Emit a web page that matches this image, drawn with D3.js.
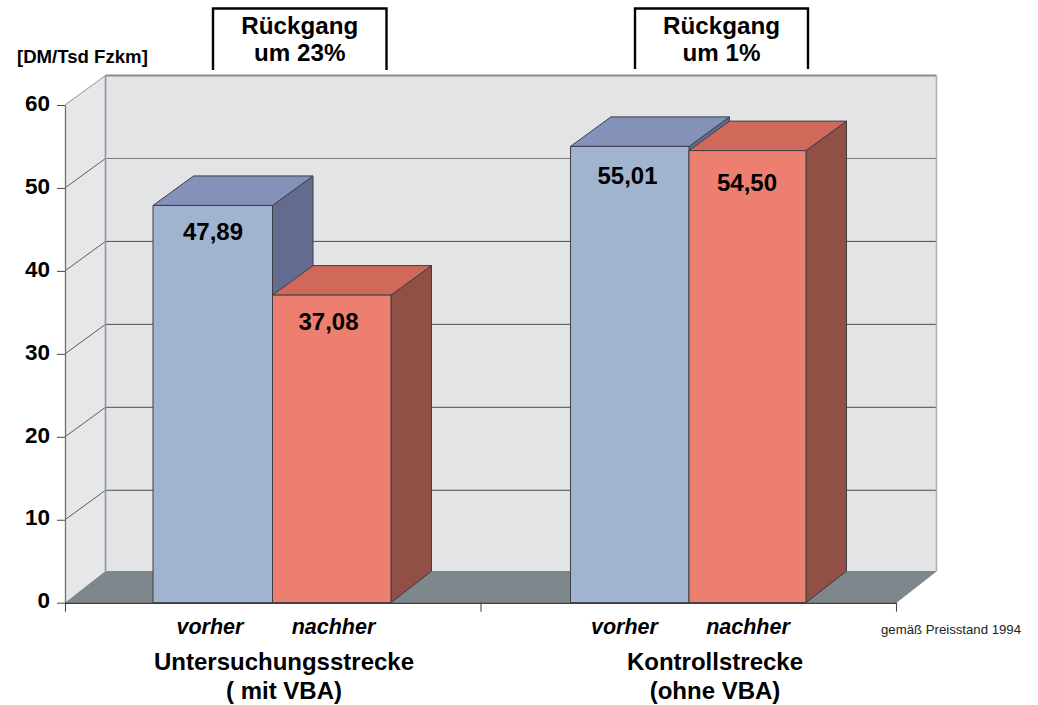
<!DOCTYPE html>
<html><head><meta charset="utf-8">
<script src="https://cdn.jsdelivr.net/npm/d3@7/dist/d3.min.js"></script>
<style>html,body{margin:0;padding:0;background:#fff}svg{display:block}text{font-family:"Liberation Sans",Arial,sans-serif;fill:#000}</style>
</head><body><svg id="c" width="1038" height="705"></svg>
<script>
const categories = ["Untersuchungsstrecke", "Kontrollstrecke"];
const categorySub = ["( mit VBA)", "(ohne VBA)"];
const seriesNames = ["vorher", "nachher"];
const vorher = [47.89, 55.01];
const nachher = [37.08, 54.50];
const labelsVorher = ["47,89", "55,01"];
const labelsNachher = ["37,08", "54,50"];
const tickValues = [0, 10, 20, 30, 40, 50, 60];
const reductions = ["um 23%", "um 1%"];

const svg = d3.select("#c");
const y = d3.scaleLinear().domain([0, 60]).range([602.7, 105]);
const x = d3.scaleLinear().domain([0, 2]).range([65, 896]);
const dx = 40.5, dyy = -29.5;
const poly = (pts, fill, stroke, sw) => svg.append("polygon")
  .attr("points", pts.map(p => p.join(",")).join(" "))
  .attr("fill", fill).attr("stroke", stroke || "none").attr("stroke-width", sw || 0)
  .attr("stroke-linejoin", "round");
const line = (x1, y1, x2, y2, c, w) => svg.append("line").attr("x1", x1).attr("y1", y1)
  .attr("x2", x2).attr("y2", y2).attr("stroke", c).attr("stroke-width", w);
const text = (s, tx, ty, size, opts = {}) => svg.append("text").attr("x", tx).attr("y", ty)
  .attr("text-anchor", opts.anchor || "middle").attr("font-size", size)
  .attr("font-weight", opts.weight || "bold").attr("font-style", opts.style || "normal")
  .style("fill", opts.fill || "#000").text(s);

// walls and floor
const x0 = x(0), x2 = x(2), yB = y(0), yT = y(60);
const wallBottom = 571;
poly([[x0 + dx, yT + dyy], [x2 + dx, yT + dyy], [x2 + dx, wallBottom], [x0 + dx, wallBottom]], "#e3e4e6");
poly([[x0, yT], [x0 + dx, yT + dyy], [x0 + dx, wallBottom], [x0, yB]], "#e6e7e9");
poly([[x0, yB], [x0 + dx, wallBottom], [x2 + dx, wallBottom], [x2, yB]], "#7e888c");

// gridlines
tickValues.slice(1).forEach(v => {
  const c = v === 60 ? "#8a8b90" : v === 50 ? "#77797d" : "#4a4c50";
  const w = v === 60 ? 2 : 1;
  line(x0, y(v), x0 + dx, y(v) + dyy, v === 60 ? "#85888c" : "#4a4d50", 0.9);
  line(x0 + dx, y(v) + dyy, x2 + dx, y(v) + dyy, c, w);
});
line(x0 + dx, yT + dyy, x0 + dx, wallBottom, "#90959a", 1.6);
line(x2 + dx, yT + dyy, x2 + dx, wallBottom, "#aeb1b5", 1.6);
line(x2, yB, x2 + dx, wallBottom, "#7e888c", 1);

// bars
const barLeft = [[153, 272.5], [570.5, 689]];
const barRight = [[272.5, 391], [689, 806]];
const labelCx = [[213, 328.5], [627.5, 747]];
const labelDy = [[35, 35], [37.5, 40]];
const palette = [
  { front: "#a0b3cf", top: "#8492b9", side: "#636b8e" },
  { front: "#ec7f70", top: "#d1695b", side: "#914f46" }
];
const edge = "#3c3e42";
categories.forEach((cat, g) => {
  [vorher[g], nachher[g]].forEach((v, s) => {
    const l = barLeft[g][s], r = barRight[g][s], t = y(v), col = palette[s];
    poly([[r, t], [r + dx, t + dyy], [r + dx, yB + dyy - 2], [r, yB]], col.side, edge, 1);
    poly([[l, t], [l + dx, t + dyy], [r + dx, t + dyy], [r, t]], col.top, edge, 1);
    poly([[l, t], [r, t], [r, yB], [l, yB]], col.front, edge, 1);
    text(s === 0 ? labelsVorher[g] : labelsNachher[g], labelCx[g][s], t + labelDy[g][s], 24);
  });
});

// y axis
const axis = svg.append("g").attr("transform", `translate(${x0},0)`)
  .call(d3.axisLeft(y).tickValues(tickValues).tickSize(8).tickSizeOuter(0).tickPadding(7).tickFormat(d3.format("d")));
axis.select(".domain").attr("stroke", "#6d7074").attr("stroke-width", 1.3);
axis.selectAll(".tick line").attr("stroke", "#44474a").attr("stroke-width", 1);
axis.selectAll(".tick text").attr("font-size", 22.5).attr("font-weight", "bold")
  .attr("font-family", '"Liberation Sans",Arial,sans-serif').attr("y", -2).style("fill", "#000");

// baseline axis
const xAxis = svg.append("g").attr("transform", `translate(0,${yB})`)
  .call(d3.axisBottom(x).tickValues([0, 1, 2]).tickSize(9).tickSizeOuter(0).tickFormat(""));
xAxis.select(".domain").attr("stroke", "#3c3e42").attr("stroke-width", 1.6);
xAxis.selectAll(".tick line").attr("stroke", "#44474a").attr("stroke-width", 1.1);

// labels
const seriesCx = [[210, 333.5], [624.5, 748]];
categories.forEach((cat, g) => {
  seriesNames.forEach((n, s) => text(n, seriesCx[g][s], 634, 21.5, { style: "italic" }));
  const cx = [284, 715][g];
  text(cat, cx, 670, 24);
  text(categorySub[g], cx, 699, 24);
  const [bl, br, bb] = [[213, 386.5, 70], [635, 808, 69]][g];
  svg.append("path").attr("d", `M${bl},${bb}V8.5H${br}V${bb}`).attr("fill", "none")
    .attr("stroke", "#000").attr("stroke-width", 2.4);
  const bc = (bl + br) / 2;
  text("Rückgang", bc, 33.5, 24.2);
  text(reductions[g], bc, 61, 24.2);
});
text("[DM/Tsd Fzkm]", 17, 63, 18.6, { anchor: "start" });
text("gemäß Preisstand 1994", 881, 634, 13.2, { anchor: "start", weight: "normal", fill: "#222" });
</script></body></html>
